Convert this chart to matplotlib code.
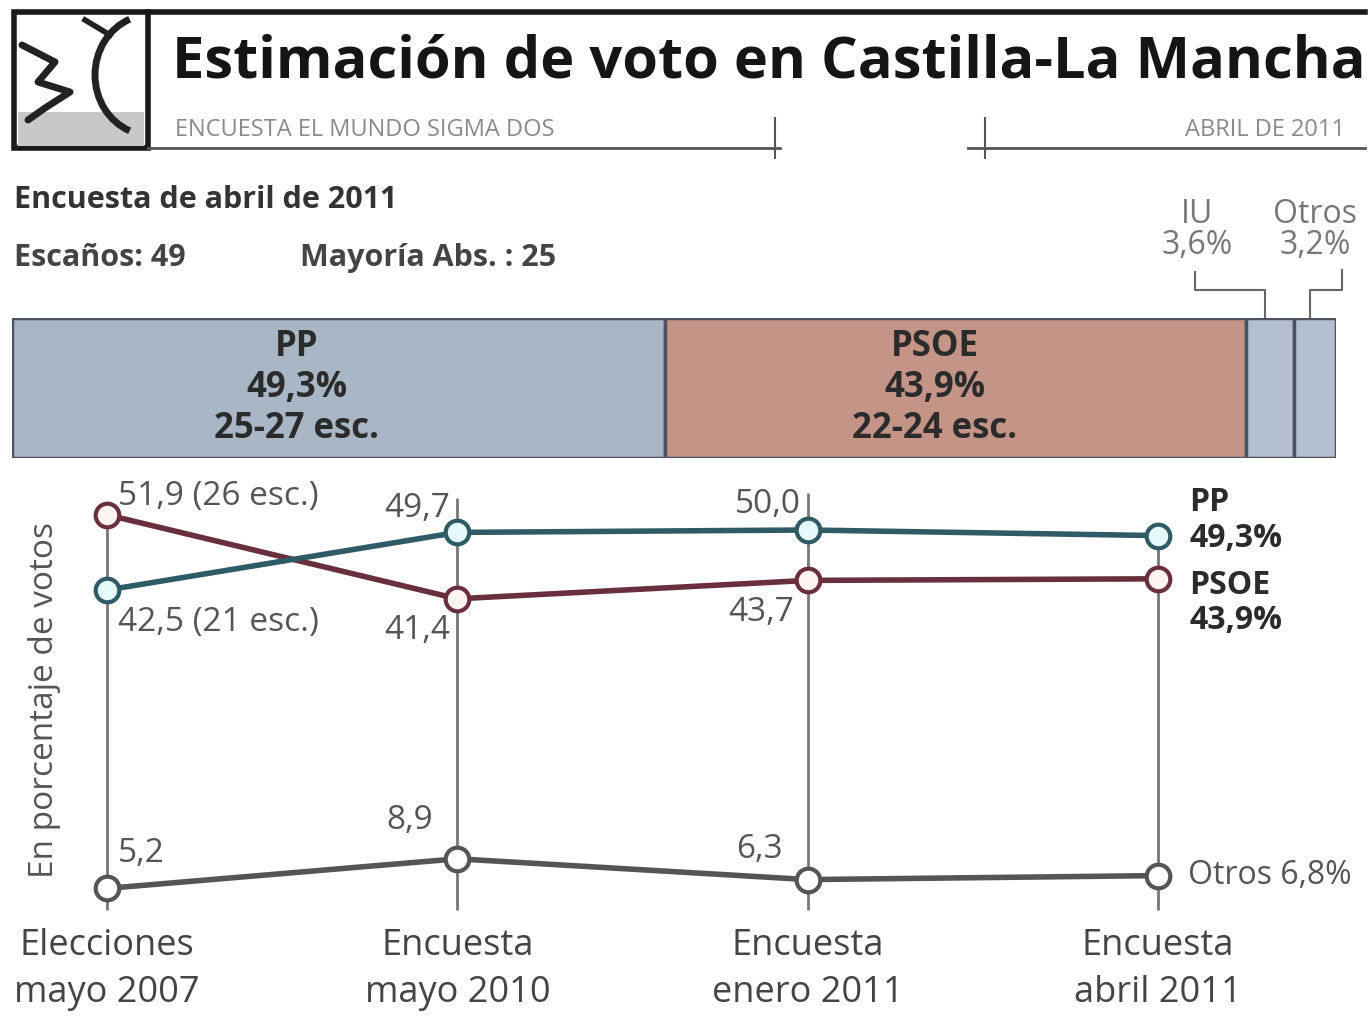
import matplotlib
matplotlib.use("Agg")
import matplotlib.pyplot as plt
from matplotlib.patches import Rectangle, Arc

# ---------------- data ----------------
bar_parties = ["PP", "PSOE", "IU", "Otros"]
bar_values = [49.3, 43.9, 3.6, 3.2]
bar_colors = ["#a9b6c5", "#c49486", "#b3bfce", "#b3bfce"]

periods = ["Elecciones\nmayo 2007", "Encuesta\nmayo 2010", "Encuesta\nenero 2011", "Encuesta\nabril 2011"]
pp_vals = [42.5, 49.7, 50.0, 49.3]
psoe_vals = [51.9, 41.4, 43.7, 43.9]
otros_vals = [5.2, 8.9, 6.3, 6.8]

W, H = 1368, 1025
plt.rcParams['font.family'] = ['Open Sans', 'DejaVu Sans']
fig = plt.figure(figsize=(W / 100, H / 100), dpi=100)
fig.patch.set_facecolor("white")

# overlay axes in pixel coordinates (background)
ov = fig.add_axes([0, 0, 1, 1])
ov.set_xlim(0, W)
ov.set_ylim(H, 0)
ov.axis("off")

# header
ov.plot([148, 1365], [12, 12], color="#1a1a1a", lw=4)
ov.add_patch(Rectangle((14, 12), 134, 136, fill=False, edgecolor="#1a1a1a", lw=4))
# stylised face
ov.add_patch(Rectangle((18, 112), 126, 34, color="#c8c8c8", lw=0))
ov.add_patch(Arc((150, 75), 110, 120, theta1=110, theta2=250, color="#222", lw=5))
ov.plot([22, 55, 38, 70, 45, 28], [45, 62, 82, 92, 108, 120], color="#222", lw=5, solid_capstyle="round")
ov.plot([85, 110], [20, 35], color="#222", lw=4)
ov.text(172, 62, "Estimación de voto en Castilla-La Mancha", fontsize=41.6, fontweight="bold",
        color="#151515", va="center", ha="left")
ov.text(175, 130, "ENCUESTA EL MUNDO SIGMA DOS", fontsize=17, color="#8a8a8a", va="center", ha="left")
ov.text(1345, 130, "ABRIL DE 2011", fontsize=17, color="#8a8a8a", va="center", ha="right")
ov.plot([148, 780], [148, 148], color="#555", lw=2)
ov.plot([775, 775], [118, 158], color="#555", lw=1.5)
ov.plot([968, 1365], [148, 148], color="#555", lw=2)
ov.plot([985, 985], [118, 158], color="#555", lw=1.5)

ov.text(14, 200, "Encuesta de abril de 2011", fontsize=22, fontweight="bold", color="#333",
        va="center", ha="left")
ov.text(14, 258, "Escaños: 49", fontsize=22, fontweight="bold", color="#444", va="center", ha="left")
ov.text(300, 258, "Mayoría Abs. : 25", fontsize=22, fontweight="bold", color="#444", va="center", ha="left")

# small party labels and leader lines
ov.text(1197, 230, "IU\n3,6%", fontsize=23, color="#777", ha="center", va="center", linespacing=0.95)
ov.text(1315, 230, "Otros\n3,2%", fontsize=23, color="#777", ha="center", va="center", linespacing=0.95)
ov.plot([1195, 1195, 1265, 1265], [272, 290, 290, 318], color="#666", lw=1.5)
ov.plot([1342, 1342, 1310, 1310], [270, 290, 290, 318], color="#666", lw=1.5)

# ---------------- stacked bar ----------------
bx0, bx1, by0, by1 = 12, 1336, 318, 458
bax = fig.add_axes([bx0 / W, 1 - by1 / H, (bx1 - bx0) / W, (by1 - by0) / H])
left = 0
for p, v, c in zip(bar_parties, bar_values, bar_colors):
    bax.barh(0, v, left=left, height=1, color=c, edgecolor="#4a5260", linewidth=2.5)
    left += v
bax.set_xlim(0, 100)
bax.set_ylim(-0.5, 0.5)
bax.axis("off")
bax.text(21.5, 0, "PP\n49,3%\n25-27 esc.", fontsize=25, fontweight="bold", color="#2b2b2b",
         ha="center", va="center", linespacing=1.18, zorder=5)
bax.text(69.7, 0, "PSOE\n43,9%\n22-24 esc.", fontsize=25, fontweight="bold", color="#2b2b2b",
         ha="center", va="center", linespacing=1.18, zorder=5)

# ---------------- line chart ----------------
px0 = 107.0
pxs = 350.33
ytop_px, ybot_px = 470, 920
v_at = lambda ypx: 42.5 - (ypx - 590) / 8.0
lax = fig.add_axes([0, 1 - ybot_px / H, 1, (ybot_px - ytop_px) / H])
lax.set_xlim(-px0 / pxs, (W - px0) / pxs)
lax.set_ylim(v_at(ybot_px), v_at(ytop_px))
for s in lax.spines.values():
    s.set_visible(False)
lax.set_yticks([])
xs = list(range(len(periods)))
lax.set_xticks(xs)
lax.set_xticklabels(periods, fontsize=26, color="#444", linespacing=1.4)
lax.tick_params(axis="x", length=0, pad=6)
lax.patch.set_alpha(0)

tops = [v_at(515), v_at(498), v_at(493), v_at(535)]
for x, t in zip(xs, tops):
    lax.vlines(x, v_at(910), t, color="#777", lw=2, zorder=1)

lax.plot(xs, otros_vals, color="#555", lw=4, marker="o", ms=17, mfc="white", mec="#555", mew=3, zorder=3)
lax.plot(xs, psoe_vals, color="#6a2f3c", lw=4, marker="o", ms=17, mfc="#fff4f4", mec="#6a2f3c", mew=3, zorder=4)
lax.plot(xs, pp_vals, color="#2f5b66", lw=4, marker="o", ms=17, mfc="#e6fbfb", mec="#2f5b66", mew=3, zorder=5)

lbl = dict(fontsize=24, color="#555", zorder=6)
lax.text(0.03, psoe_vals[0] + 2.3, "51,9 (26 esc.)", ha="left", va="center", **lbl)
lax.text(0.03, pp_vals[0] - 4.0, "42,5 (21 esc.)", ha="left", va="center", **lbl)
lax.text(0.98, pp_vals[1] + 3.0, "49,7", ha="right", va="center", **lbl)
lax.text(0.98, psoe_vals[1] - 4.0, "41,4", ha="right", va="center", **lbl)
lax.text(1.98, pp_vals[2] + 3.2, "50,0", ha="right", va="center", **lbl)
lax.text(1.96, psoe_vals[2] - 4.0, "43,7", ha="right", va="center", **lbl)
lax.text(0.03, otros_vals[0] + 4.4, "5,2", ha="left", va="center", **lbl)
lax.text(0.93, otros_vals[1] + 4.8, "8,9", ha="right", va="center", **lbl)
lax.text(1.93, otros_vals[2] + 3.8, "6,3", ha="right", va="center", **lbl)

lax.text(3.09, pp_vals[3] + 1.9, "PP\n49,3%", ha="left", va="center", fontsize=23, fontweight="bold",
         color="#2b2b2b", linespacing=1.1)
lax.text(3.09, psoe_vals[3] - 3.0, "PSOE\n43,9%", ha="left", va="center", fontsize=23, fontweight="bold",
         color="#2b2b2b", linespacing=1.1)
lax.text(3.085, otros_vals[3], "Otros 6,8%", ha="left", va="center", fontsize=23, color="#555")

ov.text(45, 700, "En porcentaje de votos", rotation=90, fontsize=24, color="#555", ha="center", va="center")

fig.savefig("out.png", dpi=100, facecolor="white")
